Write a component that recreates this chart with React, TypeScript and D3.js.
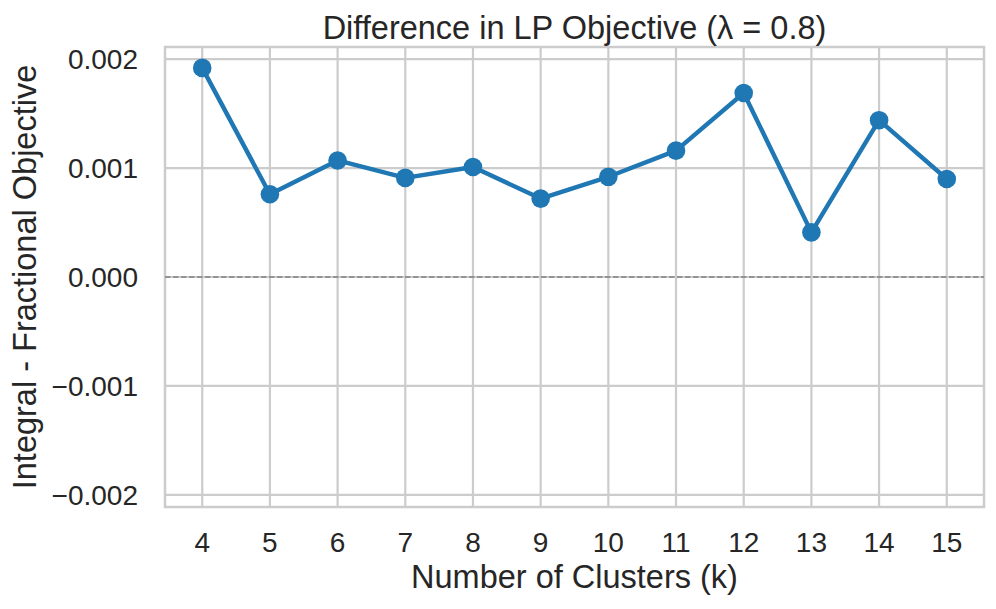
import React, { useEffect, useRef } from "react";
import * as d3 from "d3";

// data
const clusters = [4, 5, 6, 7, 8, 9, 10, 11, 12, 13, 14, 15];
const objectiveGap = [
  0.00192, 0.00076, 0.00107, 0.00091, 0.00101, 0.00072, 0.00092, 0.00116,
  0.00169, 0.00041, 0.00144, 0.0009,
];
const yTicks = [-0.002, -0.001, 0, 0.001, 0.002];

const width = 996;
const height = 609;
const margin = { top: 47, right: 12, bottom: 102, left: 165 };

const textColor = "#262626";
const gridColor = "#cccccc";
const lineColor = "#1f77b4";
const font = "'Liberation Sans', Arial, sans-serif";

export default function App() {
  const svgRef = useRef<SVGSVGElement>(null);

  useEffect(() => {
    const svg = d3.select(svgRef.current);
    svg.selectAll("*").remove();

    const innerW = width - margin.left - margin.right;
    const innerH = height - margin.top - margin.bottom;

    const xMin = d3.min(clusters)!;
    const xMax = d3.max(clusters)!;
    const pad = (xMax - xMin) * 0.05;
    const x = d3
      .scaleLinear()
      .domain([xMin - pad, xMax + pad])
      .range([0, innerW]);

    const yLim = d3.max(objectiveGap)! * 1.1;
    const y = d3.scaleLinear().domain([-yLim, yLim]).range([innerH, 0]);

    const g = svg
      .append("g")
      .attr("transform", `translate(${margin.left},${margin.top})`);

    // grid
    g.selectAll("line.vgrid")
      .data(clusters)
      .join("line")
      .attr("class", "vgrid")
      .attr("x1", (d) => x(d))
      .attr("x2", (d) => x(d))
      .attr("y1", 0)
      .attr("y2", innerH)
      .attr("stroke", gridColor)
      .attr("stroke-width", 2.2);

    g.selectAll("line.hgrid")
      .data(yTicks)
      .join("line")
      .attr("class", "hgrid")
      .attr("x1", 0)
      .attr("x2", innerW)
      .attr("y1", (d) => y(d))
      .attr("y2", (d) => y(d))
      .attr("stroke", gridColor)
      .attr("stroke-width", 2.2);

    // frame
    g.append("rect")
      .attr("width", innerW)
      .attr("height", innerH)
      .attr("fill", "none")
      .attr("stroke", gridColor)
      .attr("stroke-width", 2.5);

    // zero reference
    g.append("line")
      .attr("x1", 0)
      .attr("x2", innerW)
      .attr("y1", y(0))
      .attr("y2", y(0))
      .attr("stroke", "#808080")
      .attr("stroke-width", 1.4)
      .attr("stroke-dasharray", "5.5,2.5");

    // tick labels
    const fmt = (v: number) => d3.format(".3f")(v).replace("-", "\u2212");
    g.selectAll("text.ytick")
      .data(yTicks)
      .join("text")
      .attr("class", "ytick")
      .attr("x", -27)
      .attr("y", (d) => y(d))
      .attr("dy", "0.35em")
      .attr("text-anchor", "end")
      .attr("font-size", 28)
      .attr("fill", textColor)
      .text((d) => fmt(d));

    g.selectAll("text.xtick")
      .data(clusters)
      .join("text")
      .attr("class", "xtick")
      .attr("x", (d) => x(d))
      .attr("y", innerH + 45)
      .attr("text-anchor", "middle")
      .attr("font-size", 28)
      .attr("fill", textColor)
      .text((d) => String(d));

    // series
    const line = d3
      .line<number>()
      .x((_, i) => x(clusters[i]))
      .y((d) => y(d));

    g.append("path")
      .datum(objectiveGap)
      .attr("d", line)
      .attr("fill", "none")
      .attr("stroke", lineColor)
      .attr("stroke-width", 4.4)
      .attr("stroke-linejoin", "round");

    g.selectAll("circle")
      .data(objectiveGap)
      .join("circle")
      .attr("cx", (_, i) => x(clusters[i]))
      .attr("cy", (d) => y(d))
      .attr("r", 9.3)
      .attr("fill", lineColor);

    // title and labels
    svg
      .append("text")
      .attr("x", margin.left + innerW / 2)
      .attr("y", 39)
      .attr("text-anchor", "middle")
      .attr("font-size", 32.5)
      .attr("fill", textColor)
      .text("Difference in LP Objective (\u03bb = 0.8)");

    svg
      .append("text")
      .attr("x", margin.left + innerW / 2)
      .attr("y", 588)
      .attr("text-anchor", "middle")
      .attr("font-size", 32.5)
      .attr("fill", textColor)
      .text("Number of Clusters (k)");

    svg
      .append("text")
      .attr(
        "transform",
        `translate(36,${margin.top + innerH / 2}) rotate(-90)`
      )
      .attr("text-anchor", "middle")
      .attr("font-size", 32.5)
      .attr("fill", textColor)
      .text("Integral - Fractional Objective");
  }, []);

  return (
    <svg
      ref={svgRef}
      width={width}
      height={height}
      style={{
        position: "absolute",
        left: 0,
        top: 0,
        background: "#fff",
        fontFamily: font,
      }}
    />
  );
}
